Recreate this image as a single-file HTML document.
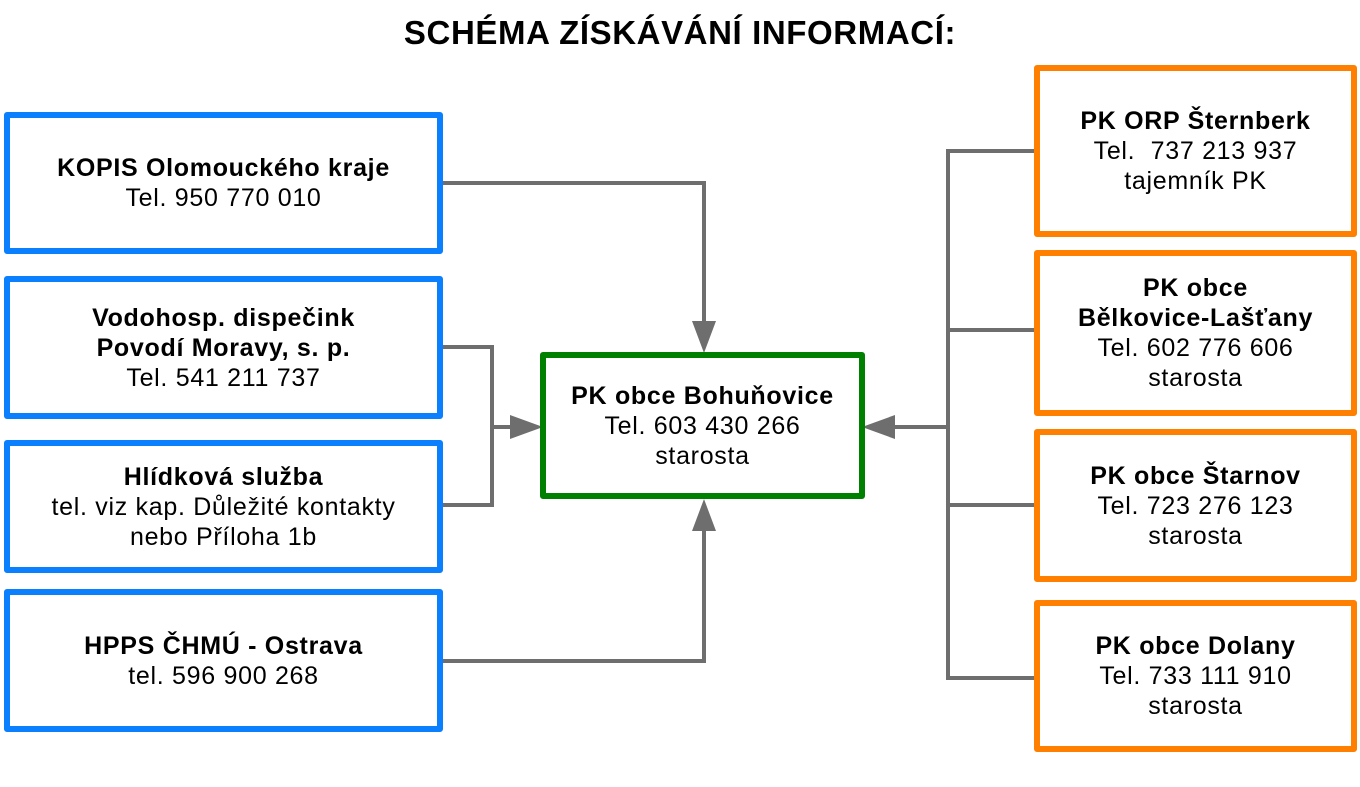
<!DOCTYPE html>
<html><head><meta charset="utf-8"><style>
body{margin:0;width:1360px;height:787px;background:#fff;position:relative;overflow:hidden;font-family:"Liberation Sans",sans-serif;}
.t{position:absolute;left:0;width:1360px;top:14px;text-align:center;font-weight:bold;font-size:33px;letter-spacing:0.6px;color:#000;}
.b{position:absolute;box-sizing:border-box;border:6px solid;border-radius:3px;display:flex;align-items:center;justify-content:center;text-align:center;font-size:25px;letter-spacing:0.7px;line-height:30px;color:#000;background:#fff;white-space:nowrap;}
.bl{border-color:#0a80ff}.gr{border-color:#008000}.or{border-color:#ff8000}
b{font-weight:bold}
svg{position:absolute;left:0;top:0}
</style></head><body>
<div class="t">SCHÉMA ZÍSKÁVÁNÍ INFORMACÍ:</div>
<svg width="1360" height="787">
<g stroke="#6e6e6e" stroke-width="4" fill="none">
<polyline points="440,183 704,183 704,330"/>
<polyline points="440,347 492,347 492,505 440,505"/>
<line x1="492" y1="427" x2="515" y2="427"/>
<polyline points="440,661 704,661 704,525"/>
<polyline points="1036,151 948,151 948,678 1036,678"/>
<line x1="948" y1="330" x2="1036" y2="330"/>
<line x1="948" y1="505" x2="1036" y2="505"/>
<line x1="948" y1="427" x2="888" y2="427"/>
</g>
<g fill="#6e6e6e">
<polygon points="510,415 510,439 543,427"/>
<polygon points="692,321 716,321 704,353"/>
<polygon points="692,531 716,531 704,499"/>
<polygon points="895,415 895,439 862,427"/>
</g>
</svg>
<div class="b bl" style="left:4px;top:112px;width:439px;height:142px"><div><b>KOPIS Olomouckého kraje</b><br>Tel. 950 770 010</div></div>
<div class="b bl" style="left:4px;top:276px;width:439px;height:143px"><div><b>Vodohosp. dispečink<br>Povodí Moravy, s. p.</b><br>Tel. 541 211 737</div></div>
<div class="b bl" style="left:4px;top:440px;width:439px;height:133px"><div><b>Hlídková služba</b><br>tel. viz kap. Důležité kontakty<br>nebo Příloha 1b</div></div>
<div class="b bl" style="left:4px;top:589px;width:439px;height:143px"><div><b>HPPS ČHMÚ - Ostrava</b><br>tel. 596 900 268</div></div>
<div class="b gr" style="left:540px;top:352px;width:325px;height:147px"><div><b>PK obce Bohuňovice</b><br>Tel. 603 430 266<br>starosta</div></div>
<div class="b or" style="left:1034px;top:65px;width:323px;height:172px"><div><b>PK ORP Šternberk</b><br>Tel.&nbsp; 737 213 937<br>tajemník PK</div></div>
<div class="b or" style="left:1034px;top:250px;width:323px;height:166px"><div><b>PK obce<br>Bělkovice-Lašťany</b><br>Tel. 602 776 606<br>starosta</div></div>
<div class="b or" style="left:1034px;top:429px;width:323px;height:153px"><div><b>PK obce Štarnov</b><br>Tel. 723 276 123<br>starosta</div></div>
<div class="b or" style="left:1034px;top:600px;width:323px;height:152px"><div><b>PK obce Dolany</b><br>Tel. 733 111 910<br>starosta</div></div>
</body></html>
